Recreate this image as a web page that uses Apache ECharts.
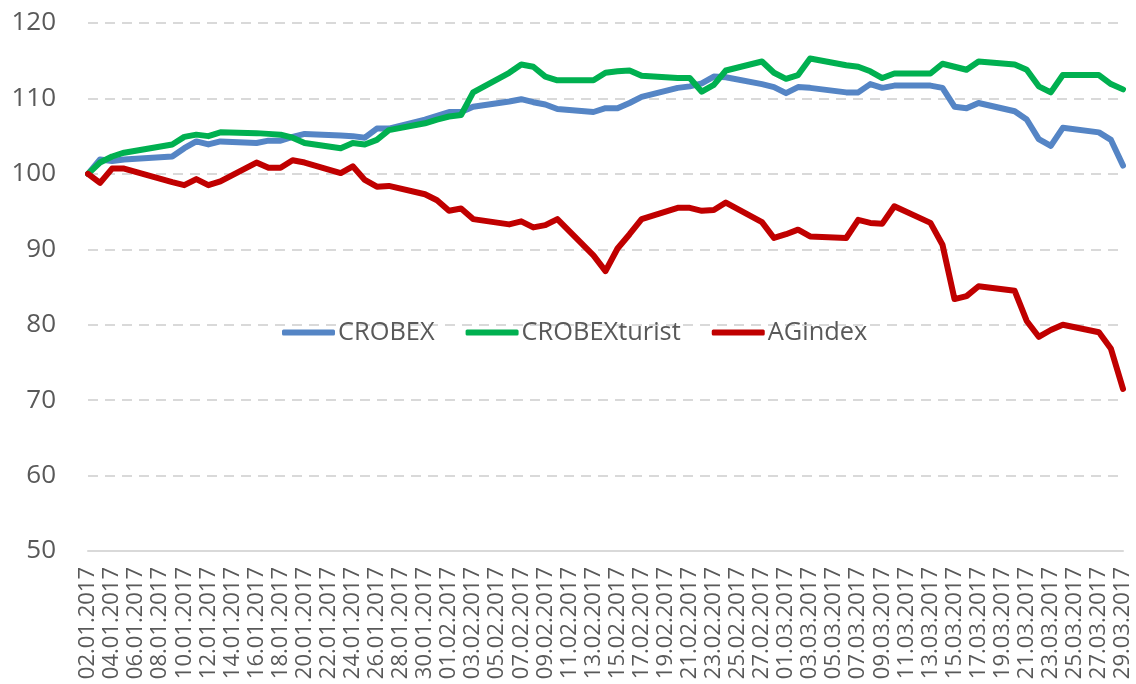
<!DOCTYPE html>
<html>
<head>
<meta charset="utf-8">
<script src="https://cdn.jsdelivr.net/npm/echarts@6/dist/echarts.min.js"></script>
<style>
html,body{margin:0;padding:0;background:#fff;}
#chart{width:1136px;height:684px;}
</style>
</head>
<body>
<div id="chart"></div>
<script>
// Trading days shown in the chart (the axis itself runs over calendar days)
const tradingDates = [
  "02.01.2017","03.01.2017","04.01.2017","05.01.2017","09.01.2017","10.01.2017","11.01.2017","12.01.2017","13.01.2017",
  "16.01.2017","17.01.2017","18.01.2017","19.01.2017","20.01.2017","23.01.2017","24.01.2017","25.01.2017","26.01.2017","27.01.2017",
  "30.01.2017","31.01.2017","01.02.2017","02.02.2017","03.02.2017","06.02.2017","07.02.2017","08.02.2017","09.02.2017","10.02.2017",
  "13.02.2017","14.02.2017","15.02.2017","16.02.2017","17.02.2017","20.02.2017","21.02.2017","22.02.2017","23.02.2017","24.02.2017",
  "27.02.2017","28.02.2017","01.03.2017","02.03.2017","03.03.2017","06.03.2017","07.03.2017","08.03.2017","09.03.2017","10.03.2017",
  "13.03.2017","14.03.2017","15.03.2017","16.03.2017","17.03.2017","20.03.2017","21.03.2017","22.03.2017","23.03.2017","24.03.2017",
  "27.03.2017","28.03.2017","29.03.2017"
];
const crobex = [
  100.0,101.9,101.7,101.9,102.3,103.4,104.3,103.9,104.3,
  104.1,104.4,104.4,104.9,105.3,105.1,105.0,104.8,106.0,106.0,
  107.2,107.7,108.2,108.2,108.9,109.6,109.9,109.5,109.2,108.6,
  108.2,108.7,108.7,109.4,110.2,111.4,111.6,112.0,112.9,112.8,
  111.9,111.5,110.7,111.5,111.4,110.8,110.8,111.9,111.4,111.7,
  111.7,111.4,108.9,108.7,109.4,108.3,107.2,104.6,103.7,106.1,
  105.5,104.5,101.1
];
const crobexTurist = [
  100.0,101.5,102.3,102.8,103.9,104.9,105.2,105.0,105.5,
  105.4,105.3,105.2,104.8,104.1,103.4,104.1,103.9,104.5,105.8,
  106.7,107.2,107.6,107.8,110.8,113.4,114.5,114.2,112.9,112.4,
  112.4,113.4,113.6,113.7,113.0,112.7,112.7,110.9,111.8,113.7,
  114.9,113.4,112.6,113.1,115.3,114.4,114.2,113.6,112.7,113.3,
  113.3,114.6,114.2,113.8,114.9,114.5,113.8,111.6,110.8,113.1,
  113.1,111.9,111.2
];
const agIndex = [
  100.0,98.8,100.7,100.7,98.9,98.5,99.3,98.5,99.0,
  101.5,100.8,100.8,101.8,101.5,100.1,101.0,99.2,98.3,98.4,
  97.3,96.5,95.1,95.4,94.0,93.3,93.7,92.9,93.2,94.0,
  89.2,87.1,90.1,92.0,94.0,95.5,95.5,95.1,95.2,96.2,
  93.6,91.5,92.0,92.6,91.7,91.5,93.9,93.5,93.4,95.7,
  93.5,90.6,83.4,83.8,85.1,84.5,80.5,78.4,79.3,80.0,
  79.0,76.8,71.5
];
const seriesNames = ["CROBEX","CROBEXturist","AGindex"];
const seriesColors = ["#5585C5","#00B050","#C00000"];
const yMin = 50, yMax = 120, yStep = 10;

// Calendar-day category axis from first to last trading date
function parse(d){const p=d.split(".");return Date.UTC(+p[2],+p[1]-1,+p[0]);}
function fmt(t){const d=new Date(t);const dd=String(d.getUTCDate()).padStart(2,"0");const mm=String(d.getUTCMonth()+1).padStart(2,"0");return dd+"."+mm+"."+d.getUTCFullYear();}
const calendar=[];
for(let t=parse(tradingDates[0]);t<=parse(tradingDates[tradingDates.length-1]);t+=86400000){calendar.push(fmt(t));}
function align(vals){const m={};tradingDates.forEach((d,i)=>m[d]=vals[i]);return calendar.map(d=>d in m?m[d]:null);}

const chart = echarts.init(document.getElementById("chart"), null, {renderer:"canvas"});
const FONT = "'Open Sans', sans-serif";
chart.setOption({
  animation:false,
  backgroundColor:"#ffffff",
  grid:{left:88,right:13,top:23,bottom:133,containLabel:false},
  legend:{
    data:seriesNames,
    left:277, top:315,
    icon:"roundRect", itemWidth:53, itemHeight:6, itemGap:31,
    textStyle:{fontFamily:FONT,fontSize:25.4,color:"#595959",padding:[0,0,0,-2]}
  },
  xAxis:{
    type:"category", boundaryGap:false, data:calendar,
    axisLine:{show:true,lineStyle:{color:"#d9d9d9",width:2}},
    axisTick:{show:false},
    splitLine:{show:false},
    axisLabel:{interval:1,rotate:90,fontFamily:FONT,fontSize:22,color:"#595959",margin:16}
  },
  yAxis:{
    type:"value", min:yMin, max:yMax, interval:yStep,
    axisLine:{show:false}, axisTick:{show:false},
    splitLine:{show:true,lineStyle:{color:"#d9d9d9",width:2,type:[10,7]}},
    axisLabel:{fontFamily:FONT,fontSize:26,color:"#595959",margin:32}
  },
  series:[crobex,crobexTurist,agIndex].map((v,i)=>({
    name:seriesNames[i], type:"line", data:align(v), connectNulls:true,
    symbol:"none", color:seriesColors[i],
    lineStyle:{width:6,color:seriesColors[i],join:"round",cap:"round"}
  }))
});
</script>
</body>
</html>
